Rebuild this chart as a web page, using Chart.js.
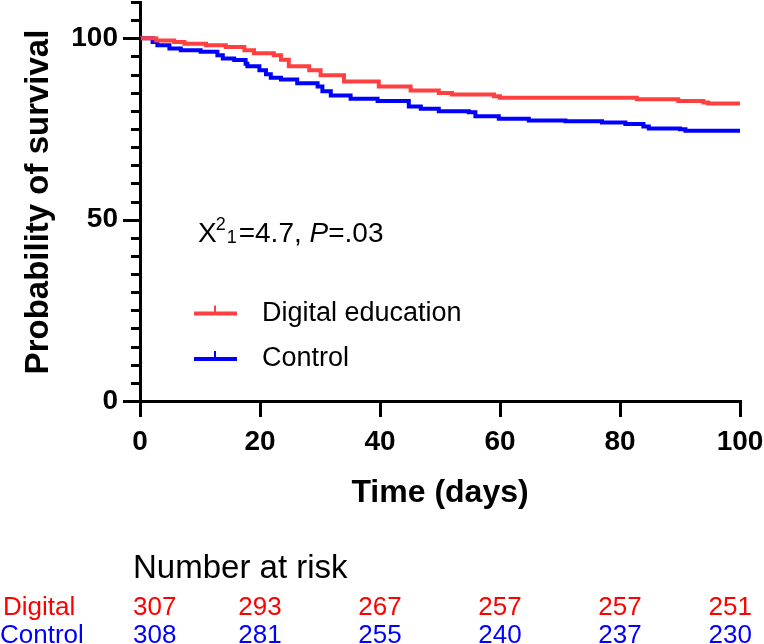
<!DOCTYPE html>
<html><head><meta charset="utf-8">
<script src="https://cdn.jsdelivr.net/npm/chart.js@4.4.1/dist/chart.umd.min.js"></script>
<style>html,body{margin:0;padding:0;background:#fff}#wrap{width:764px;height:644px;position:relative}</style>
</head><body><div id="wrap"><canvas id="c" width="764" height="644"></canvas></div>
<script>
// ---- data ----
const seriesNames = ['Digital education', 'Control'];
const digitalTimes = [0, 2.7, 5.7, 7.4, 11, 14.3, 17.4, 19, 22.3, 23.5, 24.8, 28.2, 30.1, 34, 39.8, 45.1, 49.8, 52, 59, 60, 82.8, 89.7, 93.9, 94.7, 100];
const digitalSurv  = [100, 99.4, 99.0, 98.5, 98.1, 97.6, 96.7, 95.9, 95.3, 94.1, 92.3, 91.2, 89.8, 88.1, 86.7, 85.6, 84.9, 84.5, 84.0, 83.6, 83.2, 82.7, 82.3, 82.0, 82.0];
const controlTimes = [0, 2.1, 2.9, 4.9, 6.8, 10.1, 12.9, 13.8, 15.7, 17.6, 17.9, 19.9, 21, 21.8, 23.5, 26.2, 29.6, 30.4, 31.8, 35.1, 39.6, 44.8, 46.8, 49.8, 54.8, 55.9, 59.8, 64.8, 70.9, 77, 80.9, 83.9, 84.8, 90, 90.9, 100];
const controlSurv  = [100, 99.0, 98.1, 97.2, 96.7, 96.3, 95.3, 94.4, 94.0, 93.0, 92.3, 91.2, 90.1, 89.1, 88.6, 87.6, 86.7, 85.4, 84.2, 83.3, 82.7, 81.2, 80.6, 79.9, 79.6, 78.5, 77.8, 77.3, 77.1, 76.8, 76.4, 75.7, 75.1, 74.9, 74.5, 74.5];
const xTickValues = [0, 20, 40, 60, 80, 100];
const yTickLabels = [0, 50, 100];
const riskTimes   = [0, 20, 40, 60, 80, 100];
const riskDigital = [307, 293, 267, 257, 257, 251];
const riskControl = [308, 281, 255, 240, 237, 230];
const riskRowNames = ['Digital', 'Control'];

const FONT = "'Liberation Sans', Arial, sans-serif";
const RED_LINE = 'rgb(255,64,64)', BLUE_LINE = 'rgb(0,0,255)';
const RED_TXT = '#ff0000', BLUE_TXT = '#0000ff';
Chart.defaults.font.family = FONT;

const toPts = (ts, vs) => ts.map((t, i) => ({x: t, y: vs[i]}));

const decor = {
  id: 'decor',
  afterDraw(chart) {
    const ctx = chart.ctx, xs = chart.scales.x, ys = chart.scales.y;
    const x0 = xs.left, yB = ys.bottom;
    ctx.save();
    ctx.strokeStyle = '#000'; ctx.lineWidth = 3; ctx.lineCap = 'butt';
    for (let v = 0; v <= 110; v += 5) {
      const py = Math.round(ys.getPixelForValue(v)) + 0.5;
      const len = yTickLabels.includes(v) ? 17 : 9;
      ctx.beginPath(); ctx.moveTo(x0 + 1, py); ctx.lineTo(x0 - len, py); ctx.stroke();
    }
    xTickValues.forEach(v => {
      const px = Math.round(xs.getPixelForValue(v)) + 0.5;
      ctx.beginPath(); ctx.moveTo(px, yB - 1); ctx.lineTo(px, yB + 16); ctx.stroke();
    });
    ctx.fillStyle = '#000';
    ctx.save();
    ctx.translate(39, 202); ctx.rotate(-Math.PI / 2);
    ctx.font = 'bold 33px ' + FONT; ctx.textAlign = 'center'; ctx.textBaseline = 'middle';
    ctx.fillText('Probability of survival', 0, 0);
    ctx.restore();
    ctx.font = 'bold 32px ' + FONT; ctx.textAlign = 'center'; ctx.textBaseline = 'alphabetic';
    ctx.fillText('Time (days)', (xs.left + xs.right) / 2, 502);
    // annotation
    let ax = 198; const ab = 242;
    ctx.textAlign = 'left';
    ctx.font = '28px ' + FONT;
    ctx.fillText('\u03A7', ax, ab); ax += ctx.measureText('\u03A7').width - 1;
    ctx.font = '18px ' + FONT;
    ctx.fillText('2', ax, ab - 12); ax += ctx.measureText('2').width + 1;
    ctx.fillText('1', ax, ab + 1); ax += ctx.measureText('1').width + 2;
    ctx.font = '28px ' + FONT;
    ctx.fillText('=4.7, ', ax, ab); ax += ctx.measureText('=4.7, ').width;
    ctx.font = 'italic 28px ' + FONT;
    ctx.fillText('P', ax, ab); ax += ctx.measureText('P').width;
    ctx.font = '28px ' + FONT;
    ctx.fillText('=.03', ax, ab);
    // legend
    const legendRows = [[seriesNames[0], RED_LINE, 313.5], [seriesNames[1], BLUE_LINE, 359]];
    legendRows.forEach(([name, col, ly]) => {
      ctx.strokeStyle = col; ctx.lineWidth = 4;
      ctx.beginPath(); ctx.moveTo(194, ly); ctx.lineTo(237, ly); ctx.stroke();
      ctx.lineWidth = 2;
      ctx.beginPath(); ctx.moveTo(215, ly); ctx.lineTo(215, ly - 8); ctx.stroke();
      ctx.fillStyle = '#000'; ctx.font = '27px ' + FONT; ctx.textBaseline = 'middle';
      ctx.fillText(name, 262, ly);
    });
    // number at risk
    ctx.textBaseline = 'alphabetic'; ctx.fillStyle = '#000';
    ctx.font = '33px ' + FONT; ctx.textAlign = 'left';
    ctx.fillText('Number at risk', 133, 578);
    const rows = [[riskRowNames[0], riskDigital, RED_TXT, 615, 3], [riskRowNames[1], riskControl, BLUE_TXT, 643, 0]];
    rows.forEach(([name, vals, col, by, lx]) => {
      ctx.fillStyle = col; ctx.font = '26px ' + FONT; ctx.textAlign = 'left';
      ctx.fillText(name, lx, by);
      vals.forEach((n, i) => {
        const s = String(n), w = ctx.measureText(s).width;
        let left = xs.getPixelForValue(riskTimes[i]) - w / 2;
        left = Math.max(133, Math.min(752 - w, left));
        ctx.fillText(s, left, by);
      });
    });
    ctx.restore();
  }
};

new Chart(document.getElementById('c'), {
  type: 'line',
  data: {
    datasets: [
      {label: seriesNames[0], data: toPts(digitalTimes, digitalSurv), borderColor: RED_LINE, borderWidth: 4, stepped: true, pointRadius: 0, fill: false},
      {label: seriesNames[1], data: toPts(controlTimes, controlSurv), borderColor: BLUE_LINE, borderWidth: 4, stepped: true, pointRadius: 0, fill: false}
    ]
  },
  options: {
    responsive: false, animation: false, devicePixelRatio: 1,
    layout: {padding: {top: 2, right: 24, left: 0, bottom: 0}},
    plugins: {legend: {display: false}, tooltip: {enabled: false}},
    scales: {
      x: {
        type: 'linear', min: 0, max: 100,
        afterBuildTicks: s => { s.ticks = xTickValues.map(v => ({value: v})); },
        ticks: {font: {size: 28, weight: 'bold'}, color: '#000', padding: 24, maxRotation: 0, autoSkip: false},
        grid: {drawOnChartArea: false, drawTicks: false},
        border: {display: true, color: '#000', width: 3},
        afterFit: s => { s.height = 243; s.paddingLeft = 0; s.paddingRight = 0; }
      },
      y: {
        type: 'linear', min: 0, max: 110,
        ticks: {stepSize: 5, callback: v => yTickLabels.includes(v) ? String(v) : '', font: {size: 28, weight: 'bold'}, color: '#000', padding: 22, autoSkip: false},
        grid: {drawOnChartArea: false, drawTicks: false},
        border: {display: true, color: '#000', width: 3},
        afterFit: s => { s.width = 140; s.paddingTop = 0; s.paddingBottom = 0; }
      }
    }
  },
  plugins: [decor]
});
</script></body></html>
